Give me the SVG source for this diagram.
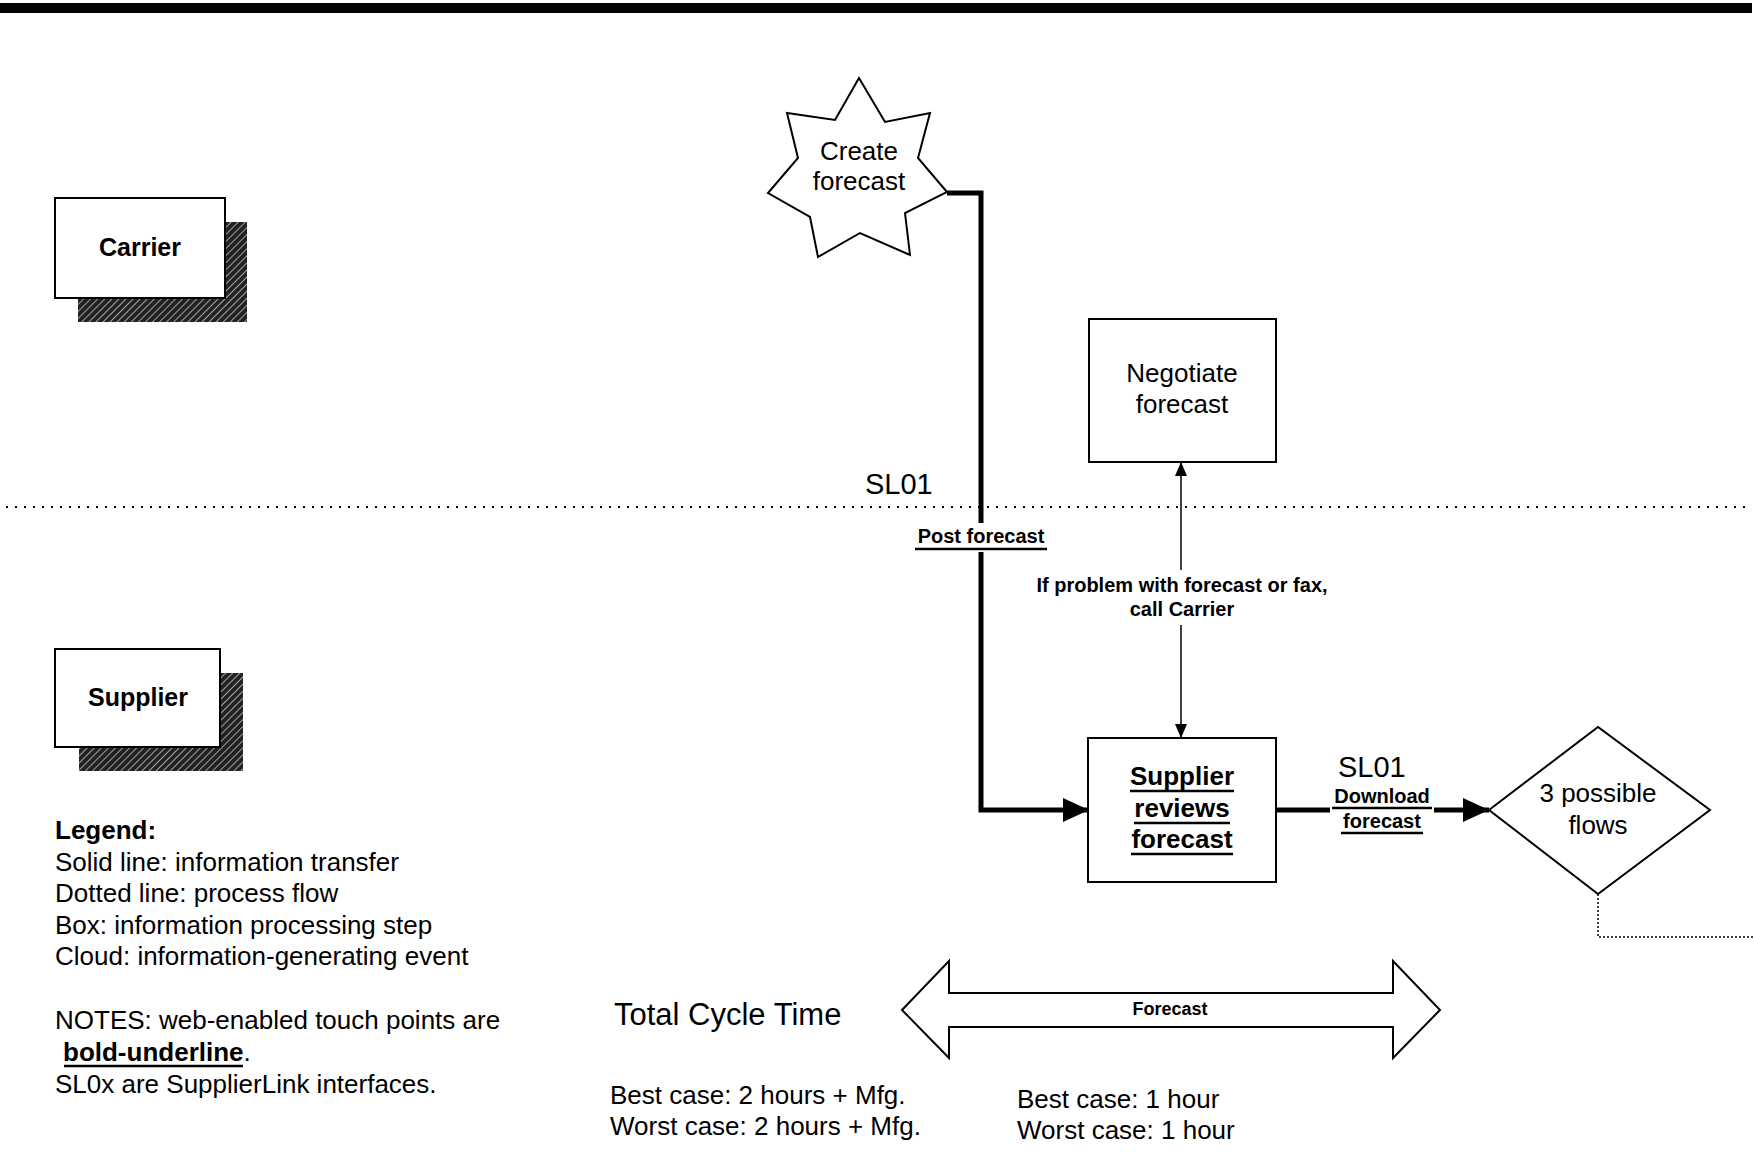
<svg xmlns="http://www.w3.org/2000/svg" width="1754" height="1152" viewBox="0 0 1754 1152">
<style>
text{font-family:"Liberation Sans",Arial,sans-serif;fill:#000}
.node{font-size:26px;text-anchor:middle}
.lane{font-size:25px;font-weight:bold;text-anchor:middle}
.lbl{font-size:20px;font-weight:bold;text-anchor:middle}
.sl{font-size:29px}
.leg{font-size:26px}
.box{fill:#fff;stroke:#000;stroke-width:2}
.thick{fill:none;stroke:#000;stroke-width:5}
.thin{fill:none;stroke:#000;stroke-width:1.5}
.ul{stroke:#000;stroke-width:2.5}
</style>
<defs>
<pattern id="hatch" patternUnits="userSpaceOnUse" width="5" height="5" patternTransform="rotate(45)">
<rect width="5" height="5" fill="#222"/>
<line x1="0" y1="0" x2="0" y2="5" stroke="#ccc" stroke-width="1.5"/>
</pattern>
<marker id="ah" markerUnits="userSpaceOnUse" markerWidth="26" markerHeight="24" refX="26" refY="12" orient="auto"><path d="M0,0 L26,12 L0,24 z" fill="#000"/></marker>
<marker id="ahs" markerUnits="userSpaceOnUse" markerWidth="14" markerHeight="14" refX="14" refY="7" orient="auto"><path d="M0,1 L14,7 L0,13 z" fill="#000"/></marker>
</defs>
<rect width="1754" height="1152" fill="#fff"/>
<rect x="0" y="3" width="1752" height="10" fill="#000"/>
<line x1="6" y1="507" x2="1752" y2="507" stroke="#000" stroke-width="2" stroke-dasharray="2,7"/>

<g id="carrier">
<rect x="78" y="222" width="169" height="100" fill="url(#hatch)"/>
<rect class="box" x="55" y="198" width="170" height="100"/>
<text class="lane" x="140" y="256">Carrier</text>
</g>
<g id="supplier">
<rect x="79" y="673" width="164" height="98" fill="url(#hatch)"/>
<rect class="box" x="55" y="649" width="165" height="98"/>
<text class="lane" x="138" y="706">Supplier</text>
</g>

<g id="connectors">
<path class="thick" d="M947,193 H981 V810 H1089" marker-end="url(#ah)"/>
<rect x="912" y="523" width="140" height="29" fill="#fff"/>
<path class="thin" d="M1181,570 V462" marker-end="url(#ahs)"/>
<path class="thin" d="M1181,625 V738" marker-end="url(#ahs)"/>
<path class="thick" d="M1276,810 H1489" marker-end="url(#ah)"/>
<rect x="1330" y="789" width="104" height="46" fill="#fff"/>
<path d="M1598,894 V937 H1754" fill="none" stroke="#000" stroke-width="1.5" stroke-dasharray="2,2"/>
</g>

<g id="create-forecast">
<polygon class="box" points="859,78 885,122 930,113 918,158 947,192 905,213 910,255 860,233 818,257 810,217 768,193 798,158 787,113 835,120"/>
<text class="node" x="859" y="160">Create</text>
<text class="node" x="859" y="190">forecast</text>
</g>

<g id="negotiate-forecast">
<rect class="box" x="1089" y="319" width="187" height="143"/>
<text class="node" x="1182" y="382">Negotiate</text>
<text class="node" x="1182" y="413">forecast</text>
</g>

<g id="supplier-reviews">
<rect class="box" x="1088" y="738" width="188" height="144"/>
<text class="node" font-weight="bold" x="1182" y="785">Supplier</text>
<line class="ul" x1="1130" y1="791" x2="1234" y2="791"/>
<text class="node" font-weight="bold" x="1182" y="817">reviews</text>
<line class="ul" x1="1134" y1="823" x2="1230" y2="823"/>
<text class="node" font-weight="bold" x="1182" y="848">forecast</text>
<line class="ul" x1="1131" y1="854" x2="1233" y2="854"/>
</g>

<g id="three-flows">
<polygon class="box" points="1489,810 1598,727 1710,810 1598,894"/>
<text class="node" x="1598" y="802">3 possible</text>
<text class="node" x="1598" y="834">flows</text>
</g>

<g id="labels">
<text class="sl" x="865" y="494">SL01</text>
<text class="lbl" x="981" y="543">Post forecast</text>
<line class="ul" x1="915" y1="549" x2="1047" y2="549"/>
<text class="lbl" x="1182" y="592" font-size="19">If problem with forecast or fax,</text>
<text class="lbl" x="1182" y="616" font-size="19">call Carrier</text>
<text class="sl" x="1338" y="777">SL01</text>
<text class="lbl" x="1382" y="803">Download</text>
<line class="ul" x1="1332" y1="808" x2="1432" y2="808"/>
<text class="lbl" x="1382" y="828">forecast</text>
<line class="ul" x1="1341" y1="833" x2="1423" y2="833"/>
</g>

<g id="legend">
<text class="leg" x="55" y="839" font-weight="bold">Legend:</text>
<text class="leg" x="55" y="871">Solid line: information transfer</text>
<text class="leg" x="55" y="902">Dotted line: process flow</text>
<text class="leg" x="55" y="934">Box: information processing step</text>
<text class="leg" x="55" y="965">Cloud: information-generating event</text>
<text class="leg" x="55" y="1029">NOTES: web-enabled touch points are</text>
<text class="leg" x="63" y="1061"><tspan font-weight="bold">bold-underline</tspan>.</text>
<line class="ul" x1="64" y1="1066" x2="243" y2="1066"/>
<text class="leg" x="55" y="1093">SL0x are SupplierLink interfaces.</text>
</g>

<g id="cycle-time">
<text x="614" y="1025" font-size="31">Total Cycle Time</text>
<polygon class="box" stroke-width="1.5" points="902,1010 949,961 949,993 1393,993 1393,961 1440,1010 1393,1058 1393,1027 949,1027 949,1058"/>
<text x="1170" y="1015" font-size="18" font-weight="bold" text-anchor="middle">Forecast</text>
<text class="leg" x="610" y="1104">Best case: 2 hours + Mfg.</text>
<text class="leg" x="610" y="1135">Worst case: 2 hours + Mfg.</text>
<text class="leg" x="1017" y="1108">Best case: 1 hour</text>
<text class="leg" x="1017" y="1139">Worst case: 1 hour</text>
</g>
</svg>
